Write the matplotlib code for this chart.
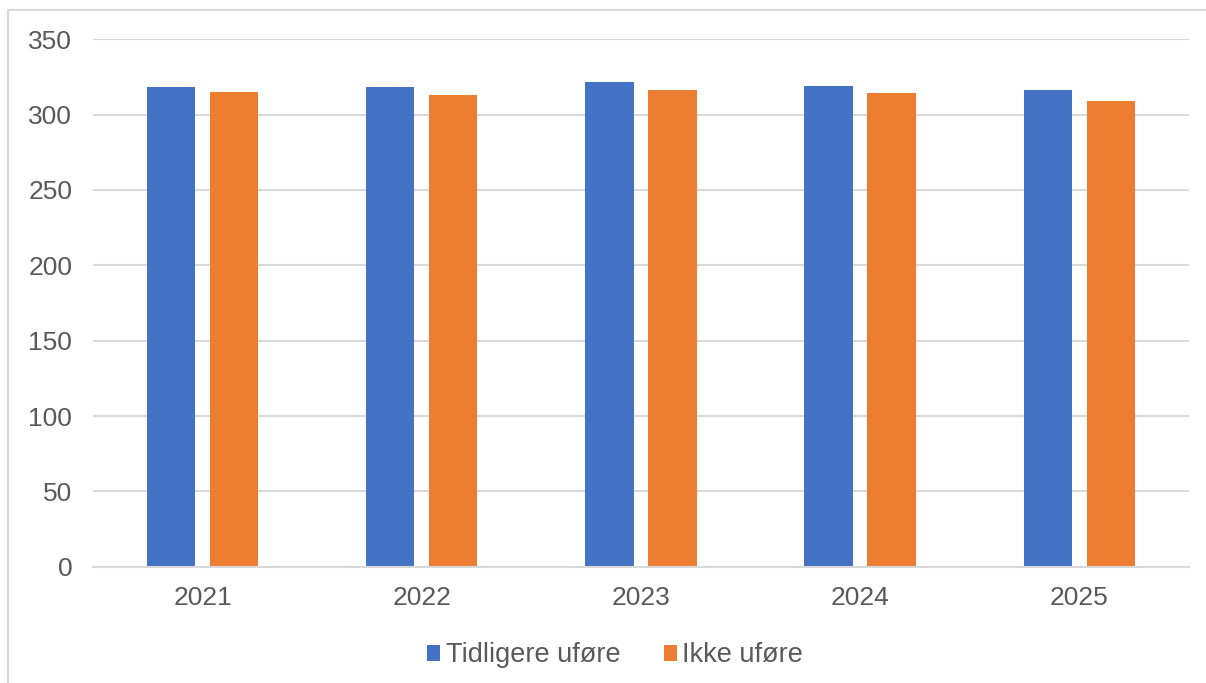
import matplotlib.pyplot as plt
import numpy as np
from matplotlib.patches import Rectangle

years = ["2021", "2022", "2023", "2024", "2025"]
tidligere_ufore = [318.1, 318.1, 321.4, 319.2, 316.5]
ikke_ufore = [314.8, 313.0, 316.5, 314.1, 308.8]
series_names = ["Tidligere uføre", "Ikke uføre"]

plt.rcParams['font.family'] = ['Liberation Sans', 'DejaVu Sans']
tekst = "#595959"
grid = "#D9D9D9"

fig = plt.figure(figsize=(12.06, 6.83), dpi=100)
ax = fig.add_axes([93/1206, 1-566.7/683, (1189-93)/1206, (566.7-39.3)/683])

x = np.arange(len(years))
w = 0.221
ax.bar(x - 0.144, tidligere_ufore, w, color="#4472C4", label=series_names[0], zorder=3)
ax.bar(x + 0.143, ikke_ufore, w, color="#ED7D31", label=series_names[1], zorder=3)

ax.set_xlim(-0.5, len(years) - 0.5)
ax.set_ylim(0, 350)
ax.set_yticks(range(0, 351, 50))
ax.set_xticks(x)
ax.set_xticklabels(years)
ax.yaxis.grid(True, color=grid, linewidth=1.5, zorder=0)
ax.tick_params(axis='both', length=0, labelsize=19, labelcolor=tekst)
ax.tick_params(axis='y', pad=15)
ax.tick_params(axis='x', pad=14)
for s in ["top", "right", "left"]:
    ax.spines[s].set_visible(False)
ax.spines["bottom"].set_color(grid)
ax.spines["bottom"].set_linewidth(1.5)
ax.spines["bottom"].set_zorder(4)

fig.patches.append(Rectangle((8/1206, -0.05), 1.1, 1 - 10/683 + 0.05,
                             transform=fig.transFigure, fill=False,
                             edgecolor=grid, linewidth=1.5))

leg = fig.legend(loc="center", bbox_to_anchor=(615/1206, 1 - 655.5/683),
                 ncol=2, frameon=False, fontsize=19.5,
                 handlelength=0.5, handleheight=0.5, handletextpad=0.2,
                 columnspacing=1.6)
for t in leg.get_texts():
    t.set_color(tekst)

fig.savefig("out.png", dpi=100)
